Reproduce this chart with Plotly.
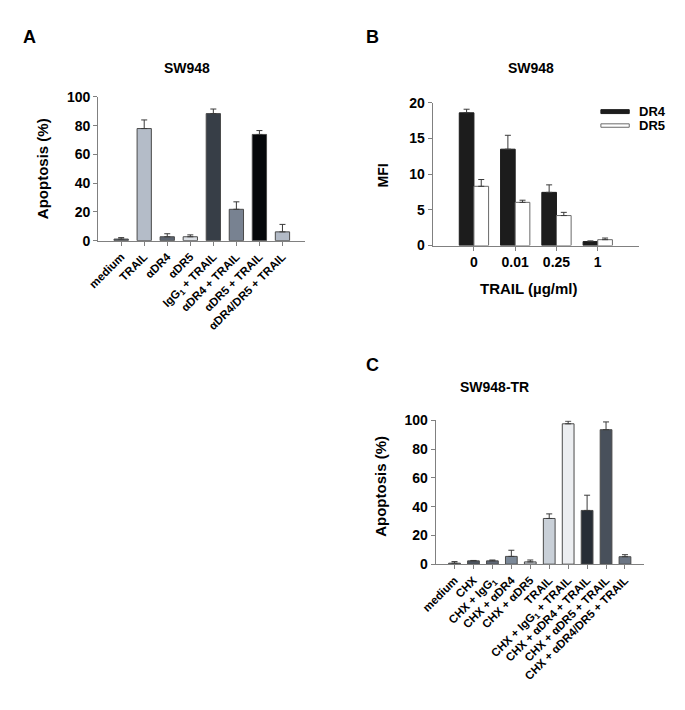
import plotly.graph_objects as go

# ---------------- Data ----------------
a_cats = ["medium", "TRAIL", "αDR4", "αDR5", "IgG<sub>1</sub> + TRAIL",
          "αDR4 + TRAIL", "αDR5 + TRAIL", "αDR4/DR5 + TRAIL"]
a_vals = [1.1, 78, 2.7, 2.7, 88.4, 21.8, 73.9, 6.1]
a_errs = [1.0, 6.0, 2.1, 1.3, 3.2, 5.2, 2.7, 5.2]
a_cols = ["#555d68", "#b4bcc8", "#5c6470", "#dde1e6", "#373e47",
          "#788291", "#05070a", "#b2bac6"]

b_cats = ["0", "0.01", "0.25", "1"]
b_dr4 = [18.6, 13.5, 7.45, 0.55]
b_dr4_err = [0.5, 1.95, 1.05, 0.1]
b_dr5 = [8.3, 6.05, 4.2, 0.82]
b_dr5_err = [0.95, 0.3, 0.45, 0.23]

c_cats = ["medium", "CHX", "CHX + IgG<sub>1</sub>", "CHX + αDR4", "CHX + αDR5",
          "TRAIL", "CHX + IgG<sub>1</sub> + TRAIL", "CHX + αDR4 + TRAIL",
          "CHX + αDR5 + TRAIL", "CHX + αDR4/DR5 + TRAIL"]
c_vals = [0.7, 2.3, 2.3, 5.4, 1.6, 31.8, 97.7, 37.4, 93.6, 5.2]
c_errs = [1.1, 0.3, 0.6, 4.3, 1.3, 3.2, 1.8, 10.6, 5.4, 1.4]
c_cols = ["#5a626e", "#4b535e", "#5f6875", "#7b8898", "#c5cad1",
          "#c9d0d8", "#eceef1", "#272d35", "#48505b", "#6b7584"]

W, H = 685, 710
FONT = "Liberation Sans, Arial, Helvetica, sans-serif"
AXC = "#808080"


def px(x):
    return x / W


def py(y):
    return 1 - y / H


fig = go.Figure()

err_style = dict(type="data", symmetric=False, color="#3a3a3a", thickness=1, width=3)

# Panel A
fig.add_trace(go.Bar(
    x=a_cats, y=a_vals, width=0.62,
    marker=dict(color=a_cols, line=dict(color="#4a4a4a", width=1)),
    error_y=dict(array=a_errs, arrayminus=[0] * len(a_vals), **err_style),
    xaxis="x", yaxis="y", showlegend=False))

# Panel B
fig.add_trace(go.Bar(
    x=b_cats, y=b_dr4, name="DR4",
    marker=dict(color="#1c1c1c", line=dict(color="#1c1c1c", width=1)),
    error_y=dict(array=b_dr4_err, arrayminus=[0] * 4, **err_style),
    xaxis="x2", yaxis="y2", showlegend=False))
fig.add_trace(go.Bar(
    x=b_cats, y=b_dr5, name="DR5",
    marker=dict(color="#ffffff", line=dict(color="#6a6a6a", width=1)),
    error_y=dict(array=b_dr5_err, arrayminus=[0] * 4, **err_style),
    xaxis="x2", yaxis="y2", showlegend=False))

# Panel C
fig.add_trace(go.Bar(
    x=c_cats, y=c_vals, width=0.62,
    marker=dict(color=c_cols, line=dict(color="#4a4a4a", width=1)),
    error_y=dict(array=c_errs, arrayminus=[0] * len(c_vals), **err_style),
    xaxis="x3", yaxis="y3", showlegend=False))

cat_tick = dict(family=FONT, size=11.5, color="black", weight="bold")
num_tick = dict(family=FONT, size=14, color="black", weight="bold")

common_x = dict(type="category", showline=True, linecolor=AXC, linewidth=1,
                ticks="outside", ticklen=4, tickcolor=AXC, showgrid=False,
                zeroline=False, fixedrange=True)
common_y = dict(showline=True, linecolor=AXC, linewidth=1, ticks="outside",
                ticklen=4, tickcolor=AXC, showgrid=False, zeroline=False,
                tickfont=num_tick, fixedrange=True)

fig.update_layout(
    width=W, height=H, margin=dict(l=0, r=0, t=0, b=0),
    paper_bgcolor="white", plot_bgcolor="white",
    barmode="group", bargap=0.29, bargroupgap=0,
    xaxis=dict(domain=[px(85), px(297)], range=[-1, 8], anchor="y",
               tickangle=-45, tickfont=cat_tick, **common_x),
    yaxis=dict(domain=[py(238), py(91)], range=[0, 100], anchor="x",
               tickvals=[0, 20, 40, 60, 80, 100], **common_y),
    xaxis2=dict(domain=[px(427), px(638)], range=[-1, 4], anchor="y2",
                tickfont=num_tick, **common_x),
    yaxis2=dict(domain=[py(243), py(97)], range=[0, 20], anchor="x2",
                tickvals=[0, 5, 10, 15, 20], **common_y),
    xaxis3=dict(domain=[px(430), px(643)], range=[-1, 10], anchor="y3",
                tickangle=-45, tickfont=cat_tick, **common_x),
    yaxis3=dict(domain=[py(569), py(422)], range=[0, 100], anchor="x3",
                tickvals=[0, 20, 40, 60, 80, 100], **common_y),
)

ann = []


def text(x, y, s, size, angle=0, xanchor="center"):
    ann.append(dict(x=px(x), y=py(y), xref="paper", yref="paper", text=s,
                    showarrow=False, textangle=angle, xanchor=xanchor,
                    yanchor="middle",
                    font=dict(family=FONT, size=size, color="black", weight="bold")))


# panel letters
text(15, 30, "A", 18)
text(366, 30, "B", 18)
text(366, 365, "C", 18)
# titles
text(176, 61, "SW948", 14)
text(528, 61, "SW948", 14)
text(490, 388, "SW948-TR", 14)
# axis titles
text(28, 164.5, "Apoptosis (%)", 15, angle=-90)
text(376, 171.5, "MFI", 14, angle=-90)
text(525, 286.5, "TRAIL (µg/ml)", 15)
text(374, 489, "Apoptosis (%)", 15, angle=-90)
# legend labels
text(636, 106, "DR4", 13, xanchor="left")
text(636, 120, "DR5", 13, xanchor="left")

fig.update_layout(annotations=ann)

# legend swatches
fig.add_shape(type="rect", xref="paper", yref="paper",
              x0=px(599), x1=px(628), y0=py(108), y1=py(104),
              fillcolor="#1c1c1c", line=dict(color="#1c1c1c", width=1))
fig.add_shape(type="rect", xref="paper", yref="paper",
              x0=px(599), x1=px(628), y0=py(122), y1=py(118.5),
              fillcolor="#ffffff", line=dict(color="#6a6a6a", width=1))

fig.write_html("out.html", config={"displayModeBar": False},
               post_script="document.body.style.margin='0';")
